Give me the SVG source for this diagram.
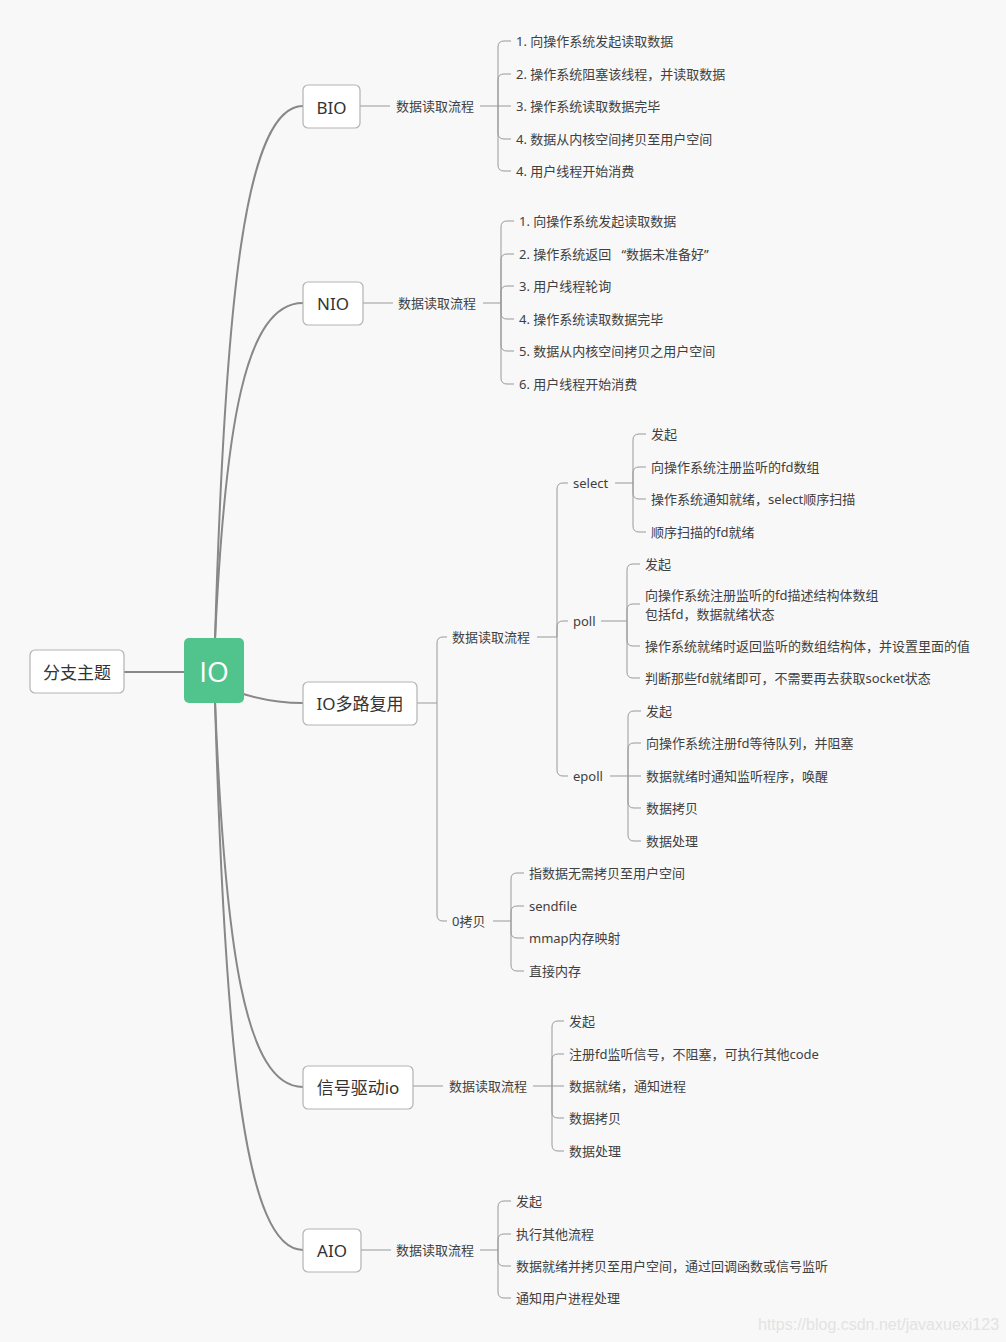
<svg xmlns="http://www.w3.org/2000/svg" width="1006" height="1342" viewBox="0 0 1006 1342">
<style>
.bg{fill:#f8f8f8}
.box{fill:#ffffff;stroke:#b3b3b3;stroke-width:1.2}
.nt{font-family:"Noto Sans","Noto Sans CJK SC",sans-serif;font-size:17px;fill:#333;text-anchor:middle;dominant-baseline:central}
.t{font-family:"Noto Sans","Noto Sans CJK SC",sans-serif;font-size:13px;fill:#404040;dominant-baseline:central}
.main{fill:none;stroke:#888;stroke-width:2}
.br{fill:none;stroke:#999;stroke-width:1}
.wm{font-family:"Liberation Sans",Arial,sans-serif;font-size:16px;fill:#e3e3e3}
</style>
<rect class="bg" x="0" y="0" width="1006" height="1342"/>

<g id="connectors">
  <path class="main" d="M124,672 H186"/>
  <path class="main" d="M215,640 C225,300 245,106 303,106"/>
  <path class="main" d="M215,640 C225,425 245,303 303,303"/>
  <path class="main" d="M240,693 C262,700 280,703 303,703"/>
  <path class="main" d="M215,701 C225,949 245,1087 303,1087"/>
  <path class="main" d="M215,701 C225,1053 245,1250 303,1250"/>

  <!-- BIO -->
  <path class="br" d="M360,106 H390"/>
  <path class="br" d="M480,106 H498"/>
  <path class="br" d="M498,106 V47 Q498,41 504,41 H511"/>
  <path class="br" d="M498,106 V80 Q498,74 504,74 H511"/>
  <path class="br" d="M498,106 H511"/>
  <path class="br" d="M498,106 V133 Q498,139 504,139 H511"/>
  <path class="br" d="M498,106 V165 Q498,171 504,171 H511"/>

  <!-- NIO -->
  <path class="br" d="M363,303 H393"/>
  <path class="br" d="M483,303 H501"/>
  <path class="br" d="M501,303 V227 Q501,221 507,221 H514"/>
  <path class="br" d="M501,303 V260 Q501,254 507,254 H514"/>
  <path class="br" d="M501,303 V292 Q501,286 507,286 H514"/>
  <path class="br" d="M501,303 V313 Q501,319 507,319 H514"/>
  <path class="br" d="M501,303 V345 Q501,351 507,351 H514"/>
  <path class="br" d="M501,303 V378 Q501,384 507,384 H514"/>

  <!-- IO多路复用 -->
  <path class="br" d="M417,703 H437"/>
  <path class="br" d="M437,703 V643 Q437,637 443,637 H447"/>
  <path class="br" d="M437,703 V915 Q437,921 443,921 H447"/>

  <!-- 数据读取流程 (multiplex) -->
  <path class="br" d="M537,637 H557"/>
  <path class="br" d="M557,637 V489 Q557,483 563,483 H568"/>
  <path class="br" d="M557,637 V627 Q557,621 563,621 H568"/>
  <path class="br" d="M557,637 V770 Q557,776 563,776 H568"/>

  <!-- select -->
  <path class="br" d="M615,483 H633"/>
  <path class="br" d="M633,483 V440 Q633,434 639,434 H646"/>
  <path class="br" d="M633,483 V473 Q633,467 639,467 H646"/>
  <path class="br" d="M633,483 V493 Q633,499 639,499 H646"/>
  <path class="br" d="M633,483 V526 Q633,532 639,532 H646"/>

  <!-- poll -->
  <path class="br" d="M601,621 H627"/>
  <path class="br" d="M627,621 V570 Q627,564 633,564 H640"/>
  <path class="br" d="M627,621 V610 Q627,604 633,604 H640"/>
  <path class="br" d="M627,621 V640 Q627,646 633,646 H640"/>
  <path class="br" d="M627,621 V672 Q627,678 633,678 H640"/>

  <!-- epoll -->
  <path class="br" d="M610,776 H628"/>
  <path class="br" d="M628,776 V717 Q628,711 634,711 H641"/>
  <path class="br" d="M628,776 V749 Q628,743 634,743 H641"/>
  <path class="br" d="M628,776 H641"/>
  <path class="br" d="M628,776 V802 Q628,808 634,808 H641"/>
  <path class="br" d="M628,776 V835 Q628,841 634,841 H641"/>

  <!-- 0拷贝 -->
  <path class="br" d="M493,921 H511"/>
  <path class="br" d="M511,921 V879 Q511,873 517,873 H524"/>
  <path class="br" d="M511,921 V912 Q511,906 517,906 H524"/>
  <path class="br" d="M511,921 V932 Q511,938 517,938 H524"/>
  <path class="br" d="M511,921 V965 Q511,971 517,971 H524"/>

  <!-- 信号驱动io -->
  <path class="br" d="M413,1086 H443"/>
  <path class="br" d="M533,1086 H552"/>
  <path class="br" d="M552,1086 V1027 Q552,1021 558,1021 H564"/>
  <path class="br" d="M552,1086 V1060 Q552,1054 558,1054 H564"/>
  <path class="br" d="M552,1086 H564"/>
  <path class="br" d="M552,1086 V1112 Q552,1118 558,1118 H564"/>
  <path class="br" d="M552,1086 V1145 Q552,1151 558,1151 H564"/>

  <!-- AIO -->
  <path class="br" d="M361,1250 H391"/>
  <path class="br" d="M480,1250 H498"/>
  <path class="br" d="M498,1250 V1207 Q498,1201 504,1201 H511"/>
  <path class="br" d="M498,1250 V1240 Q498,1234 504,1234 H511"/>
  <path class="br" d="M498,1250 V1260 Q498,1266 504,1266 H511"/>
  <path class="br" d="M498,1250 V1292 Q498,1298 504,1298 H511"/>
</g>

<g id="node-branch">
  <rect class="box" x="30" y="650" width="94" height="43" rx="5"/>
  <text class="nt" x="77" y="672">分支主题</text>
</g>

<g id="node-io">
  <rect x="184" y="638" width="60" height="65" rx="5" fill="#50c48c"/>
  <text x="214" y="671" font-family="'Open Sans','Noto Sans',sans-serif" font-weight="400" font-size="28" fill="#ffffff" text-anchor="middle" dominant-baseline="central">IO</text>
</g>

<g id="node-bio">
  <rect class="box" x="303" y="85" width="57" height="43" rx="5"/>
  <text class="nt" x="331.5" y="107">BIO</text>
  <text class="t" x="396" y="106">数据读取流程</text>
  <text class="t" x="516" y="41">1. 向操作系统发起读取数据</text>
  <text class="t" x="516" y="74">2. 操作系统阻塞该线程，并读取数据</text>
  <text class="t" x="516" y="106">3. 操作系统读取数据完毕</text>
  <text class="t" x="516" y="139">4. 数据从内核空间拷贝至用户空间</text>
  <text class="t" x="516" y="171">4. 用户线程开始消费</text>
</g>

<g id="node-nio">
  <rect class="box" x="303" y="282" width="60" height="43" rx="5"/>
  <text class="nt" x="333" y="303">NIO</text>
  <text class="t" x="398" y="303">数据读取流程</text>
  <text class="t" x="519" y="221">1. 向操作系统发起读取数据</text>
  <text class="t" x="519" y="254">2. 操作系统返回&#160;&#160;&#160;“数据未准备好”</text>
  <text class="t" x="519" y="286">3. 用户线程轮询</text>
  <text class="t" x="519" y="319">4. 操作系统读取数据完毕</text>
  <text class="t" x="519" y="351">5. 数据从内核空间拷贝之用户空间</text>
  <text class="t" x="519" y="384">6. 用户线程开始消费</text>
</g>

<g id="node-multiplex">
  <rect class="box" x="303" y="682" width="114" height="43" rx="5"/>
  <text class="nt" x="360" y="703">IO多路复用</text>
  <text class="t" x="452" y="637">数据读取流程</text>
  <text class="t" x="573" y="483">select</text>
  <text class="t" x="651" y="434">发起</text>
  <text class="t" x="651" y="467">向操作系统注册监听的fd数组</text>
  <text class="t" x="651" y="499">操作系统通知就绪，select顺序扫描</text>
  <text class="t" x="651" y="532">顺序扫描的fd就绪</text>
  <text class="t" x="573" y="621">poll</text>
  <text class="t" x="645" y="564">发起</text>
  <text class="t" x="645" y="595">向操作系统注册监听的fd描述结构体数组</text>
  <text class="t" x="645" y="614">包括fd，数据就绪状态</text>
  <text class="t" x="645" y="646">操作系统就绪时返回监听的数组结构体，并设置里面的值</text>
  <text class="t" x="645" y="678">判断那些fd就绪即可，不需要再去获取socket状态</text>
  <text class="t" x="573" y="776">epoll</text>
  <text class="t" x="646" y="711">发起</text>
  <text class="t" x="646" y="743">向操作系统注册fd等待队列，并阻塞</text>
  <text class="t" x="646" y="776">数据就绪时通知监听程序，唤醒</text>
  <text class="t" x="646" y="808">数据拷贝</text>
  <text class="t" x="646" y="841">数据处理</text>
  <text class="t" x="452" y="921">0拷贝</text>
  <text class="t" x="529" y="873">指数据无需拷贝至用户空间</text>
  <text class="t" x="529" y="906">sendfile</text>
  <text class="t" x="529" y="938">mmap内存映射</text>
  <text class="t" x="529" y="971">直接内存</text>
</g>

<g id="node-signal">
  <rect class="box" x="303" y="1066" width="110" height="43" rx="5"/>
  <text class="nt" x="358" y="1087">信号驱动io</text>
  <text class="t" x="449" y="1086">数据读取流程</text>
  <text class="t" x="569" y="1021">发起</text>
  <text class="t" x="569" y="1054">注册fd监听信号，不阻塞，可执行其他code</text>
  <text class="t" x="569" y="1086">数据就绪，通知进程</text>
  <text class="t" x="569" y="1118">数据拷贝</text>
  <text class="t" x="569" y="1151">数据处理</text>
</g>

<g id="node-aio">
  <rect class="box" x="303" y="1229" width="58" height="43" rx="5"/>
  <text class="nt" x="332" y="1250">AIO</text>
  <text class="t" x="396" y="1250">数据读取流程</text>
  <text class="t" x="516" y="1201">发起</text>
  <text class="t" x="516" y="1234">执行其他流程</text>
  <text class="t" x="516" y="1266">数据就绪并拷贝至用户空间，通过回调函数或信号监听</text>
  <text class="t" x="516" y="1298">通知用户进程处理</text>
</g>

<text class="wm" x="758" y="1330">https://blog.csdn.net/javaxuexi123</text>
</svg>
